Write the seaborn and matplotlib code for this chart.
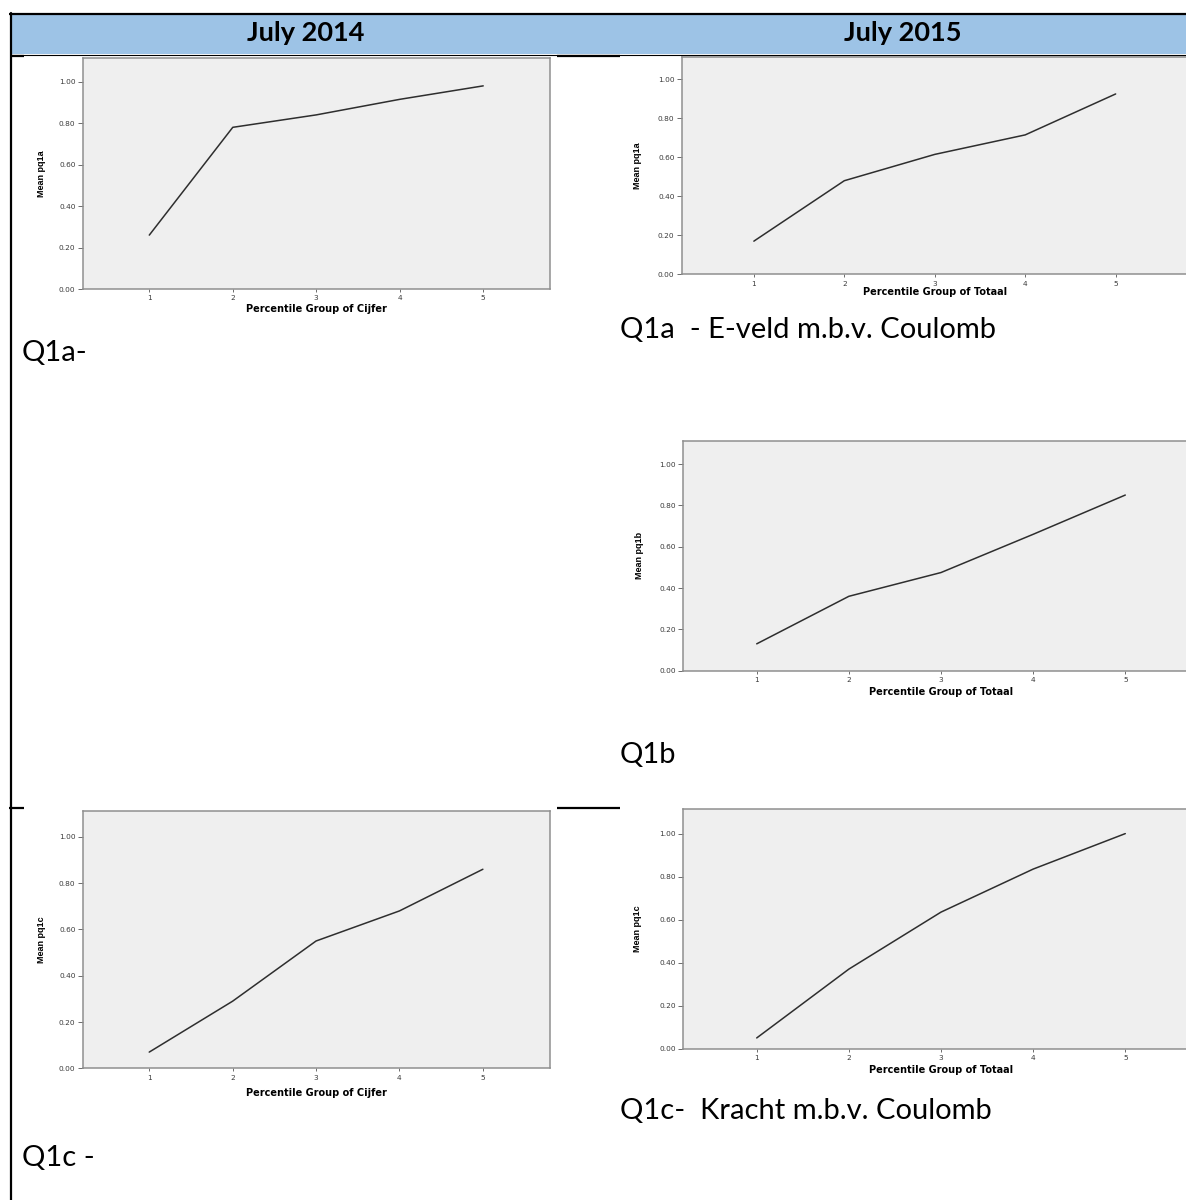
import matplotlib
matplotlib.use("Agg")
import matplotlib.pyplot as plt
from matplotlib.lines import Line2D
from matplotlib.patches import Rectangle
from matplotlib.ticker import StrMethodFormatter
import pandas as pd
import seaborn as sns

# data (mean score per percentile group)
groups = [1, 2, 3, 4, 5]
q1a_2014 = [0.26, 0.78, 0.84, 0.915, 0.98]
q1a_2015 = [0.17, 0.48, 0.615, 0.715, 0.925]
q1b_2015 = [0.13, 0.36, 0.475, 0.66, 0.85]
q1c_2014 = [0.07, 0.29, 0.55, 0.68, 0.86]
q1c_2015 = [0.05, 0.37, 0.635, 0.835, 1.0]

y_ticks = [0.0, 0.2, 0.4, 0.6, 0.8, 1.0]
headers = ["July 2014", "July 2015"]
captions = ["Q1a-", "Q1a  - E-veld m.b.v. Coulomb", "Q1b",
            "Q1c-  Kracht m.b.v. Coulomb", "Q1c -"]

sns.set_theme(style="white")
plt.rcParams["font.family"] = ["DejaVu Sans"]

W, H = 1186, 1200
fig = plt.figure(figsize=(W / 100, H / 100), dpi=100)
fig.patch.set_facecolor("white")


def fx(x):
    return x / W


def fy(y):
    return 1 - y / H


def hline(x0, x1, y, lw):
    fig.add_artist(Line2D([fx(x0), fx(x1)], [fy(y), fy(y)], color="black",
                          lw=lw, transform=fig.transFigure, solid_capstyle="butt"))


# table pieces
fig.add_artist(Rectangle((fx(11), fy(54)), fx(W - 11), (54 - 14) / H,
                         transform=fig.transFigure, facecolor="#9dc3e6",
                         edgecolor="none"))
hline(9, W, 13.5, 1.6)
hline(11, W, 54.5, 0.8)
hline(11, 24, 56, 1.6)
hline(557, 620, 56, 1.6)
hline(9, 24, 808, 1.6)
hline(557, 620, 808, 1.6)
fig.add_artist(Line2D([fx(10.5), fx(10.5)], [fy(12.5), fy(H)], color="black",
                      lw=1.6, transform=fig.transFigure))

for txt, cx in zip(headers, [306, 903]):
    fig.text(fx(cx), fy(33), txt, ha="center", va="center", color="black",
             fontsize=19.5, fontweight="bold", family="Lato")

# panels: values, y label, x label, box in px (left, top, right, bottom), label gaps
panels = [
    (q1a_2014, "Mean pq1a", "Percentile Group of Cijfer", (82.5, 58.3, 550, 289), 15, 36.5),
    (q1a_2015, "Mean pq1a", "Percentile Group of Totaal", (681.5, 57.3, 1188, 274.3), 12.7, 39),
    (q1b_2015, "Mean pq1b", "Percentile Group of Totaal", (683, 440.7, 1199, 670.7), 16, 38.6),
    (q1c_2014, "Mean pq1c", "Percentile Group of Cijfer", (82.5, 810.7, 549.6, 1068.3), 19.4, 36.5),
    (q1c_2015, "Mean pq1c", "Percentile Group of Totaal", (683, 809.3, 1199, 1048.7), 16.6, 40.5),
]

for vals, ylab, xlab, box, xgap, ygap in panels:
    x0, y0, x1, y1 = box
    ax = fig.add_axes([fx(x0), fy(y1), (x1 - x0) / W, (y1 - y0) / H])
    df = pd.DataFrame({"group": groups, "mean": vals})
    sns.lineplot(data=df, x="group", y="mean", ax=ax, color="#2e2e2e", lw=1.1)
    ax.set_facecolor("#efefef")
    ax.set_xlim(0.2, 5.8)
    ax.set_ylim(0, 1.113)
    ax.set_xticks(groups)
    ax.set_yticks(y_ticks)
    ax.yaxis.set_major_formatter(StrMethodFormatter("{x:.2f}"))
    ax.tick_params(axis="both", labelsize=5.3, labelcolor="#3a3a3a", color="#555555",
                   width=0.6)
    ax.tick_params(axis="x", length=2.5, pad=2, bottom=True)
    ax.tick_params(axis="y", length=3.5, pad=1.5, left=True)
    for sp in ax.spines.values():
        sp.set_color("#8f8f8f")
        sp.set_linewidth(1.1)
    ax.set_xlabel(xlab, fontsize=7, fontweight="bold", color="black")
    ax.set_ylabel(ylab, fontsize=6.5, fontweight="bold", color="black",
                  family=["Liberation Sans Narrow", "Liberation Sans"])
    ax.xaxis.set_label_coords(0.5, -xgap / (y1 - y0))
    ax.yaxis.set_label_coords(-ygap / (x1 - x0), 0.5)

cap_pos = [(22, 353), (620, 330), (620, 755), (620, 1111), (22, 1158)]
for txt, (cx, cy) in zip(captions, cap_pos):
    fig.text(fx(cx), fy(cy), txt, ha="left", va="center", fontsize=21,
             family="Lato", color="black")

fig.savefig("out.png", dpi=100)
